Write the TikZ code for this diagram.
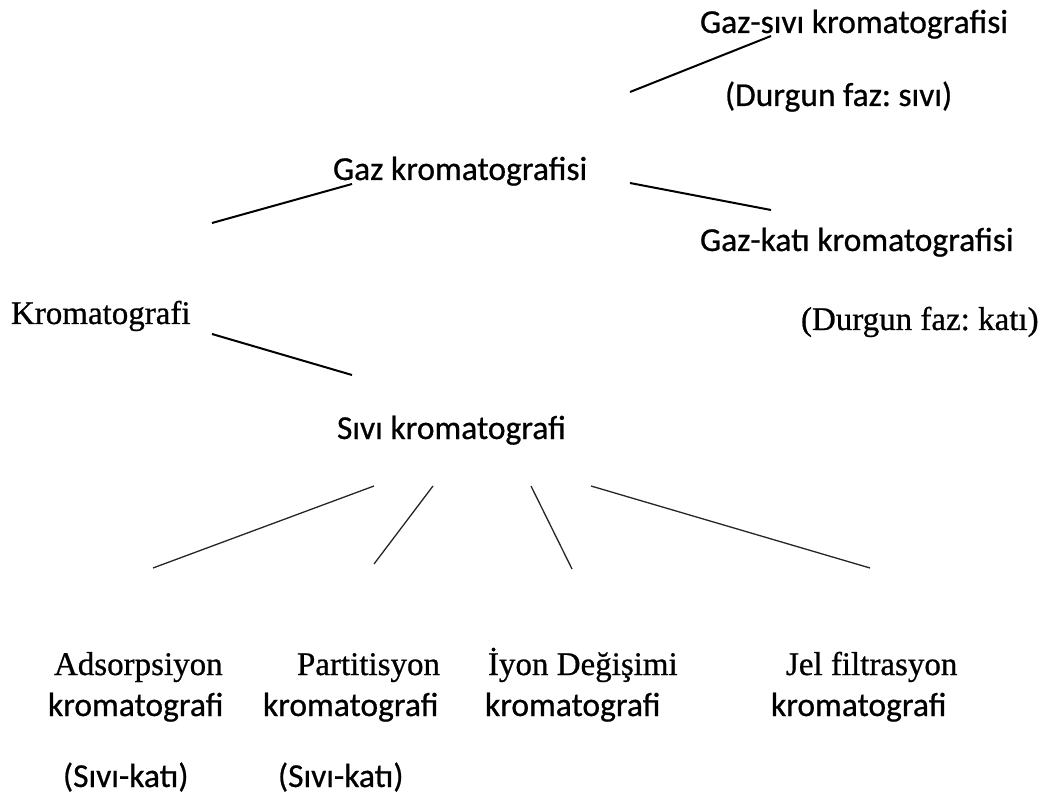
\documentclass[tikz,border=0pt]{standalone}
\usepackage{fontspec}
\setmainfont{Liberation Serif}[FakeBold=0.7]
\newfontfamily\calib{Carlito}[FakeBold=0.7]
\begin{document}
\frenchspacing
\begin{tikzpicture}[x=1pt,y=-1pt,
  every node/.style={inner sep=0pt,outer sep=0pt,anchor=base west,font=\fontsize{33}{40}\selectfont},
  ctext/.style={font=\fontsize{33.5}{40}\selectfont\calib},
  stext/.style={font=\fontsize{33}{40}\selectfont},
  branch/.style={line width=2pt,black},
  fine/.style={line width=1.3pt,black!85}]
\useasboundingbox[fill=white] (0,0) rectangle (1047,799);
% texts
\node[ctext] (gs) at (700,33) {Gaz-sıvı kromatografisi};
\node[ctext] (gsd) at (725,106) {(Durgun faz: sıvı)};
\node[ctext] (gaz) at (333,180) {Gaz kromatografisi};
\node[ctext] (gk) at (700,251) {Gaz-katı kromatografisi};
\node[stext] (kr) at (11,324) {Kromatografi};
\node[stext] (gkd) at (801,330) {(Durgun faz: katı)};
\node[ctext] (siv) at (337,439) {Sıvı kromatografi};
\node[stext] (ads) at (54,675) {Adsorpsiyon};
\node[ctext] (adsk) at (48,716) {kromatografi};
\node[ctext] (adsd) at (63,787) {(Sıvı-katı)};
\node[stext] (par) at (297,675) {Partitisyon};
\node[ctext] (park) at (263,716) {kromatografi};
\node[ctext] (pard) at (278,787) {(Sıvı-katı)};
\node[stext] (iyon) at (488,675) {İyon Değişimi};
\node[ctext] (iyonk) at (485,716) {kromatografi};
\node[stext] (jel) at (786,675) {Jel filtrasyon};
\node[ctext] (jelk) at (771,716) {kromatografi};
% connector ends
\coordinate (kr-a) at (212,223);
\coordinate (gaz-a) at (352,184);
\coordinate (kr-b) at (212,334);
\coordinate (siv-a) at (352,375);
\coordinate (gaz-b) at (630,92);
\coordinate (gs-a) at (771,36);
\coordinate (gaz-c) at (630,183);
\coordinate (gk-a) at (771,210);
\coordinate (siv-b) at (374,486);
\coordinate (ads-a) at (153,568);
\coordinate (siv-c) at (433,486);
\coordinate (par-a) at (374,564);
\coordinate (siv-d) at (531,486);
\coordinate (iyon-a) at (572,569);
\coordinate (siv-e) at (591,486);
\coordinate (jel-a) at (870,568);
% connectors
\draw[branch] (kr-a) -- (gaz-a);
\draw[branch] (kr-b) -- (siv-a);
\draw[branch] (gaz-b) -- (gs-a);
\draw[branch] (gaz-c) -- (gk-a);
\draw[fine] (siv-b) -- (ads-a);
\draw[fine] (siv-c) -- (par-a);
\draw[fine] (siv-d) -- (iyon-a);
\draw[fine] (siv-e) -- (jel-a);
\end{tikzpicture}
\end{document}
